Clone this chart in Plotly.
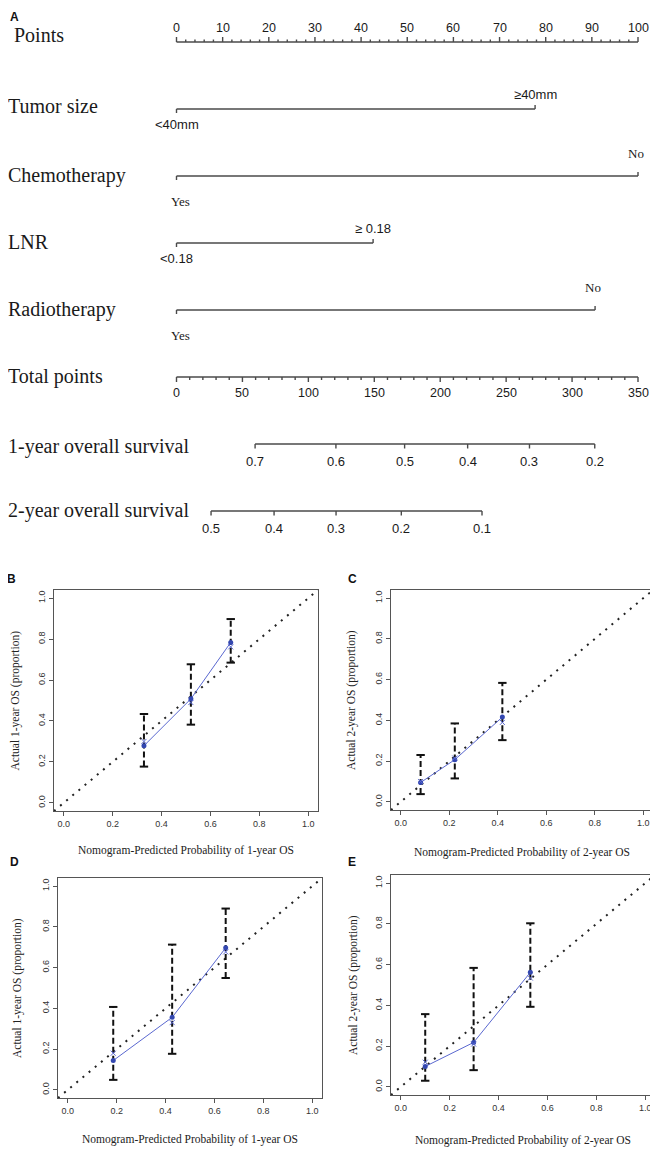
import plotly.graph_objects as go

# ------------------------------------------------------------------ data
# Panel A: nomogram
row_names = ["Points", "Tumor size", "Chemotherapy", "LNR", "Radiotherapy",
             "Total points", "1-year overall survival", "2-year overall survival"]
points_major = list(range(0, 101, 10))
points_minor = [v for v in range(0, 101, 2) if v % 10]
var_levels = [["<40mm", "≥40mm"], ["Yes", "No"], ["<0.18", "≥ 0.18"], ["Yes", "No"]]
var_points = [[0, 77.7], [0, 100], [0, 42.6], [0, 90.7]]
total_max = 350
total_major = list(range(0, 351, 50))
total_minor = [v for v in range(0, 351, 10) if v % 50]
os1_labels = ["0.7", "0.6", "0.5", "0.4", "0.3", "0.2"]
os1_total = [59.6, 120.9, 173.0, 220.8, 267.7, 317.2]
os2_labels = ["0.5", "0.4", "0.3", "0.2", "0.1"]
os2_total = [26.2, 74.0, 121.0, 170.5, 231.7]

# Panels B-E: calibration curves
cal_ticks = [0, 0.2, 0.4, 0.6, 0.8, 1.0]
cal_ticklabels = ["0.0", "0.2", "0.4", "0.6", "0.8", "1.0"]
ideal = [-0.04, 1.04]

b_pred = [0.328, 0.520, 0.683]
b_obs = [0.279, 0.508, 0.784]
b_corr = [0.300, 0.490, 0.762]
b_lo = [0.177, 0.382, 0.685]
b_hi = [0.434, 0.677, 0.898]

c_pred = [0.082, 0.223, 0.419]
c_obs = [0.095, 0.207, 0.416]
c_corr = [0.100, 0.215, 0.390]
c_lo = [0.038, 0.115, 0.303]
c_hi = [0.230, 0.385, 0.584]

d_pred = [0.186, 0.427, 0.646]
d_obs = [0.144, 0.356, 0.697]
d_corr = [0.180, 0.330, 0.677]
d_lo = [0.049, 0.177, 0.549]
d_hi = [0.407, 0.713, 0.890]

e_pred = [0.100, 0.298, 0.530]
e_obs = [0.100, 0.218, 0.562]
e_corr = [0.121, 0.210, 0.534]
e_lo = [0.030, 0.082, 0.393]
e_hi = [0.357, 0.584, 0.803]

x_title_1 = "Nomogram-Predicted Probability of 1-year OS"
x_title_2 = "Nomogram-Predicted Probability of 2-year OS"
y_title_1 = "Actual 1-year OS (proportion)"
y_title_2 = "Actual 2-year OS (proportion)"

# ------------------------------------------------------------------ layout constants
OFF = 8                      # default page margin of the browser body
W, H = 658 - OFF, 1150 - OFF
PX_ORIGIN, PX_PER_PT = 176.5 - OFF, 4.615
ROW_TOP, ROW_STEP = 42 - OFF, 67
SERIF = "Liberation Serif"
SANS = "Liberation Sans"
INK = "#1a1a1a"
LINE = "#4a4a4a"
row_label_shift = [7, 3, 1, 1, 1, 1, -2, 1]


def rows(px):
    return px / ROW_STEP


def tp(v):
    return v * 100.0 / total_max


fig = go.Figure()
ann = []

# ------------------------------------------------------------------ nomogram
sx, sy = [], []


def seg(x0, y0, x1, y1):
    sx.extend([x0, x1, None])
    sy.extend([y0, y1, None])


# Points axis (row 0): ticks up, labels above
seg(0, 0, 100, 0)
for v in points_major:
    seg(v, 0, v, -rows(5))
    ann.append(dict(x=v, y=0, xref="x", yref="y", text=str(v), showarrow=False,
                    yshift=14, yanchor="middle", font=dict(family=SANS, size=12.5, color=INK)))
for v in points_minor:
    seg(v, 0, v, -rows(2.5))

# variable rows
serif_levels = [False, True, False, True]
for i, (levels, pts) in enumerate(zip(var_levels, var_points)):
    k = i + 1
    seg(pts[0], k, pts[1], k)
    seg(pts[0], k, pts[0], k + rows(4))
    seg(pts[1], k, pts[1], k - rows(4))
    if serif_levels[i]:
        fnt = dict(family=SERIF, size=13, color=INK)
        below, above, dx = -25, 23, 4
    else:
        fnt = dict(family=SANS, size=13, color=INK)
        below, above, dx = -15, 15, 0
    ann.append(dict(x=pts[0], y=k, xref="x", yref="y", text=levels[0], showarrow=False,
                    yshift=below, xshift=dx, yanchor="middle", font=fnt))
    ann.append(dict(x=pts[1], y=k, xref="x", yref="y", text=levels[1], showarrow=False,
                    yshift=above, xshift=-dx / 2, yanchor="middle", font=fnt))

# Total points (row 5): ticks down, labels below
seg(tp(0), 5, tp(total_max), 5)
for v in total_major:
    seg(tp(v), 5, tp(v), 5 + rows(5))
    ann.append(dict(x=tp(v), y=5, xref="x", yref="y", text=str(v), showarrow=False,
                    yshift=-16, yanchor="middle", font=dict(family=SANS, size=12.5, color=INK)))
for v in total_minor:
    seg(tp(v), 5, tp(v), 5 + rows(3))

# survival rows
for k, labs, vals in [(6, os1_labels, os1_total), (7, os2_labels, os2_total)]:
    seg(tp(vals[0]), k, tp(vals[-1]), k)
    for lab, v in zip(labs, vals):
        seg(tp(v), k, tp(v), k + rows(4.5))
        ann.append(dict(x=tp(v), y=k, xref="x", yref="y", text=lab, showarrow=False,
                        yshift=-17.5, yanchor="middle", font=dict(family=SANS, size=13, color=INK)))

fig.add_trace(go.Scatter(x=sx, y=sy, mode="lines", xaxis="x", yaxis="y",
                         line=dict(color=LINE, width=1.4), hoverinfo="skip", cliponaxis=False))

for k, name in enumerate(row_names):
    ann.append(dict(x=((12 if k == 0 else 6) - OFF) / W, y=k, xref="paper", yref="y", text=name,
                    showarrow=False, xanchor="left", yanchor="middle",
                    yshift=row_label_shift[k], font=dict(family=SERIF, size=20, color=INK)))

layout = dict(
    xaxis=dict(domain=[0, 1], range=[-PX_ORIGIN / PX_PER_PT, (W - PX_ORIGIN) / PX_PER_PT],
               visible=False, fixedrange=True),
    yaxis=dict(domain=[0, 1], range=[(H - ROW_TOP) / ROW_STEP, -ROW_TOP / ROW_STEP],
               visible=False, fixedrange=True),
)

# ------------------------------------------------------------------ calibration panels
BLUE_LINE = "#5a68d0"
BLUE_DOT = "#3347b0"


def add_cal(idx, pred, obs, corr, lo, hi, box, xtitle, ytitle, tshift, yshift_title):
    xa, ya = f"x{idx}", f"y{idx}"
    x0, y0, x1, y1 = [v - OFF for v in box]
    fig.add_trace(go.Scatter(x=ideal, y=ideal, xaxis=xa, yaxis=ya, mode="lines",
                             line=dict(color="#222", width=2, dash="2px,6px"), hoverinfo="skip"))
    ex, ey = [], []
    for xv, l, h in zip(pred, lo, hi):
        ex += [xv, xv, None]
        ey += [l, h, None]
    fig.add_trace(go.Scatter(x=ex, y=ey, xaxis=xa, yaxis=ya, mode="lines",
                             line=dict(color="#111", width=2, dash="6px,3px"), hoverinfo="skip"))
    fig.add_trace(go.Scatter(x=pred + pred, y=lo + hi, xaxis=xa, yaxis=ya, mode="markers",
                             marker=dict(symbol="line-ew", size=6, line=dict(color="#111", width=2)),
                             hoverinfo="skip"))
    fig.add_trace(go.Scatter(x=pred, y=obs, xaxis=xa, yaxis=ya, mode="lines+markers",
                             line=dict(color=BLUE_LINE, width=1),
                             marker=dict(color=BLUE_DOT, size=5), hoverinfo="skip"))
    fig.add_trace(go.Scatter(x=pred, y=corr, xaxis=xa, yaxis=ya, mode="markers",
                             marker=dict(symbol="x-thin", size=5, line=dict(color=BLUE_LINE, width=1)),
                             hoverinfo="skip"))
    common = dict(range=[-0.04, 1.04], showline=True, mirror=True, linecolor="#555", linewidth=1.2,
                  ticks="outside", ticklen=4, tickcolor="#555", tickvals=cal_ticks,
                  ticktext=cal_ticklabels, showgrid=False, zeroline=False, fixedrange=True,
                  tickfont=dict(family=SANS, size=9, color="#333"))
    layout[f"xaxis{idx}"] = dict(domain=[x0 / W, x1 / W], anchor=ya, **common)
    layout[f"yaxis{idx}"] = dict(domain=[1 - y1 / H, 1 - y0 / H], anchor=xa, tickangle=-90, **common)
    ann.append(dict(x=0.5, y=0, xref=f"{xa} domain", yref=f"{ya} domain", text=xtitle,
                    showarrow=False, yanchor="middle", yshift=-tshift,
                    font=dict(family=SERIF, size=11.5, color="#222")))
    ann.append(dict(x=0, y=0.5, xref=f"{xa} domain", yref=f"{ya} domain", text=ytitle,
                    showarrow=False, xanchor="center", yanchor="middle", textangle=-90,
                    xshift=-yshift_title, font=dict(family=SERIF, size=11.5, color="#222")))


add_cal(2, b_pred, b_obs, b_corr, b_lo, b_hi, (54, 590, 318, 811), x_title_1, y_title_1, 39, 39)
add_cal(3, c_pred, c_obs, c_corr, c_lo, c_hi, (391, 590, 653, 810), x_title_2, y_title_2, 42, 40)
add_cal(4, d_pred, d_obs, d_corr, d_lo, d_hi, (58, 878, 322, 1098), x_title_1, y_title_1, 41, 41)
add_cal(5, e_pred, e_obs, e_corr, e_lo, e_hi, (391, 875, 655, 1095), x_title_2, y_title_2, 45, 38)

# panel letters
ann.append(dict(x=0, y=1, xref="paper", yref="paper", text="<b>A</b>",
                showarrow=False, xanchor="left", yanchor="top",
                font=dict(family=SANS, size=12, color="#111")))
for letter, px, py in [("B", 11, 579), ("C", 352, 579), ("D", 14, 862), ("E", 352, 862)]:
    ann.append(dict(x=(px - OFF) / W, y=1 - (py - OFF) / H, xref="paper", yref="paper",
                    text=f"<b>{letter}</b>", showarrow=False, xanchor="center", yanchor="middle",
                    font=dict(family=SANS, size=12, color="#111")))

fig.update_layout(width=W, height=H, margin=dict(l=0, r=0, t=0, b=0),
                  paper_bgcolor="white", plot_bgcolor="rgba(0,0,0,0)", showlegend=False,
                  annotations=ann, **layout)

fig.write_html("out.html")
